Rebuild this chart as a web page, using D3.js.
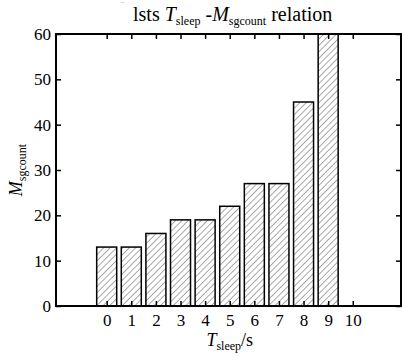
<!DOCTYPE html>
<html>
<head>
<meta charset="utf-8">
<script src="https://cdn.jsdelivr.net/npm/d3@7"></script>
<style>
  body { margin: 0; background: #fff; }
</style>
</head>
<body>
<svg width="402" height="357"></svg>
<script>
var categories = [0, 1, 2, 3, 4, 5, 6, 7, 8, 9];
var counts = [13, 13, 16, 19, 19, 22, 27, 27, 45, 60];
var xTicks = [0, 1, 2, 3, 4, 5, 6, 7, 8, 9, 10];
var yTicks = [0, 10, 20, 30, 40, 50, 60];

var serif = "Liberation Serif";

var svg = d3.select("svg").attr("font-family", serif),
    margin = { top: 34, right: 1, bottom: 51, left: 56 },
    width = +svg.attr("width") - margin.left - margin.right,
    height = +svg.attr("height") - margin.top - margin.bottom;

var defs = svg.append("defs");
var pat = defs.append("pattern")
    .attr("id", "hatch")
    .attr("patternUnits", "userSpaceOnUse")
    .attr("width", 4.5).attr("height", 4.5)
    .attr("patternTransform", "rotate(45)");
pat.append("rect").attr("width", 4.5).attr("height", 4.5).attr("fill", "#fff");
pat.append("line")
    .attr("x1", 0).attr("y1", 0).attr("x2", 0).attr("y2", 4.5)
    .attr("stroke", "#555").attr("stroke-width", 1);

var g = svg.append("g").attr("transform", "translate(" + margin.left + "," + margin.top + ")");

var x = d3.scaleLinear().domain([-2.06, 11.96]).range([0, width]);
var y = d3.scaleLinear().domain([0, 60]).range([height, 0]);
var barW = 20;

g.selectAll("rect.bar")
    .data(categories)
    .enter().append("rect")
    .attr("class", "bar")
    .attr("x", function (d) { return x(d) - barW / 2; })
    .attr("y", function (d, i) { return y(counts[i]); })
    .attr("width", barW)
    .attr("height", function (d, i) { return height - y(counts[i]); })
    .attr("fill", "url(#hatch)")
    .attr("stroke", "#000")
    .attr("stroke-width", 1.5);

// axes, ticks pointing inward
function styleAxis(sel) {
    sel.attr("font-family", serif).attr("font-size", 17);
    sel.select(".domain").remove();
    sel.selectAll("line").attr("stroke", "#000").attr("stroke-width", 1.5);
    sel.selectAll("text").attr("font-family", serif).attr("fill", "#000");
}

g.append("g")
    .attr("transform", "translate(0," + height + ")")
    .call(d3.axisBottom(x).tickValues(xTicks).tickSize(-5).tickPadding(8).tickFormat(d3.format("d")))
    .call(styleAxis);
g.append("g")
    .call(d3.axisTop(x).tickValues(xTicks).tickSize(-5).tickFormat(""))
    .call(styleAxis);
g.append("g")
    .call(d3.axisLeft(y).tickValues(yTicks).tickSize(-5).tickPadding(5))
    .call(styleAxis);
g.append("g")
    .attr("transform", "translate(" + width + ",0)")
    .call(d3.axisRight(y).tickValues(yTicks).tickSize(-5).tickFormat(""))
    .call(styleAxis);

g.append("rect")
    .attr("width", width).attr("height", height)
    .attr("fill", "none").attr("stroke", "#000").attr("stroke-width", 2);

// title
svg.append("text")
    .attr("x", 121).attr("y", 9)
    .attr("fill", "#aaa")
    .attr("font-size", 10)
    .text("¨");
var title = svg.append("text")
    .attr("x", 133).attr("y", 21)
    .attr("font-size", 20);
title.append("tspan").text("lsts ");
title.append("tspan").attr("font-style", "italic").text("T");
title.append("tspan").attr("font-size", 12).attr("dy", 4).text("sleep");
title.append("tspan").attr("dy", -4).text(" -");
title.append("tspan").attr("font-style", "italic").text("M");
title.append("tspan").attr("font-size", 12).attr("dy", 4).text("sgcount");
title.append("tspan").attr("dy", -4).text(" relation");

// x label
var xl = svg.append("text")
    .attr("x", margin.left + x(5.0)).attr("y", 346)
    .attr("text-anchor", "middle")
    .attr("font-size", 18);
xl.append("tspan").attr("font-style", "italic").text("T");
xl.append("tspan").attr("font-size", 12).attr("dy", 4).text("sleep");
xl.append("tspan").attr("dy", -4).text("/s");

// y label
var yl = svg.append("text")
    .attr("transform", "translate(22," + (margin.top + height / 2) + ") rotate(-90)")
    .attr("text-anchor", "middle")
    .attr("font-size", 18);
yl.append("tspan").attr("font-style", "italic").text("M");
yl.append("tspan").attr("font-size", 12).attr("dy", 4).text("sgcount");
</script>
</body>
</html>
